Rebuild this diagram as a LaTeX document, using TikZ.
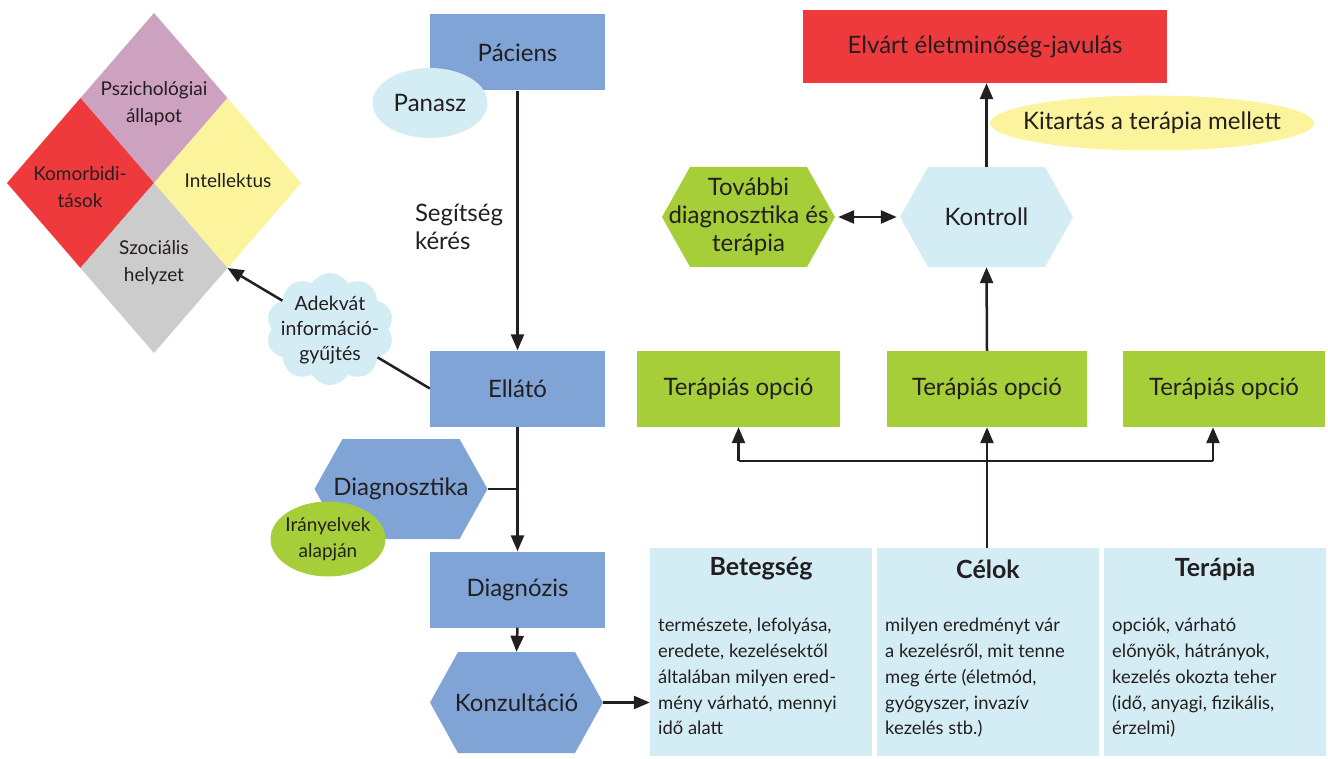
\documentclass[tikz,border=0pt]{standalone}
\usepackage{fontspec}
\setmainfont{Lato}
\usetikzlibrary{shapes.geometric,shapes.symbols,arrows.meta,calc}
\definecolor{bluebox}{HTML}{80A4D6}
\definecolor{lblue}{HTML}{D4ECF3}
\definecolor{grn}{HTML}{A6CE39}
\definecolor{redc}{HTML}{EE3A3D}
\definecolor{pinkc}{HTML}{CDA1C0}
\definecolor{yelc}{HTML}{FBF49C}
\definecolor{grayc}{HTML}{CCCCCC}
\definecolor{ink}{HTML}{231F20}
\newcommand\hexshape[7]{%
  \fill[#6] ({#2-#4/2},#3) -- ({#2-#4/2+28},{#3-#5/2}) -- ({#2+#4/2-28},{#3-#5/2}) -- ({#2+#4/2},#3) -- ({#2+#4/2-28},{#3+#5/2}) -- ({#2-#4/2+28},{#3+#5/2}) -- cycle;
  \node[txt, minimum width=#4pt, minimum height=#5pt, inner sep=0pt] (#1) at (#2,#3) {#7};}
\begin{document}
\begin{tikzpicture}[x=1pt,y=-1pt,
  txt/.style={text=ink, align=center, font=\fontsize{24}{28}\selectfont},
  small/.style={text=ink, align=center, font=\fontsize{19}{27}\selectfont},
  body/.style={text=ink, align=left, font=\fontsize{18.4}{25.8}\selectfont, anchor=north west, inner sep=0pt},
  head/.style={text=ink, font=\bfseries\fontsize{25}{28}\selectfont},
  box/.style={txt, minimum width=175pt, minimum height=76pt, inner sep=0pt},
  ell/.style={ellipse, inner sep=0pt},
  arr/.style={draw=ink, line width=2.5pt, -{Triangle[length=16pt,width=13pt]}},
  ln/.style={draw=ink, line width=2.5pt},
  infobox/.style={fill=lblue, minimum width=222pt, minimum height=208pt, inner sep=0pt}]
\useasboundingbox (0,0) rectangle (1328,759);

% diamond
\fill[pinkc] (154,13) -- (227.5,98) -- (154,183) -- (80.5,98) -- cycle;
\fill[redc] (80.5,98) -- (154,183) -- (80.5,268) -- (7,183) -- cycle;
\fill[yelc] (227.5,98) -- (301,183) -- (227.5,268) -- (154,183) -- cycle;
\fill[grayc] (154,183) -- (227.5,268) -- (154,353) -- (80.5,268) -- cycle;
\coordinate (dr) at (227.5,268);
\node[small] (psz) at (154,104) {Pszichológiai\\állapot};
\node[small] (kom) at (80,187) {Komorbidi-\\tások};
\node[small] (int) at (228,181) {Intellektus};
\node[small] (szo) at (154,263) {Szociális\\helyzet};

% left column
\node[box, fill=bluebox] (pac) at (517.5,52.5) {Páciens};
\node[ell, fill=lblue, minimum width=115pt, minimum height=70pt] (pan) at (430,103) {};
\node[txt] (pant) at (pan.center) {Panasz};
\node[box, fill=bluebox] (ell) at (517.5,388.5) {Ellátó};
\node[box, fill=bluebox] (dgz) at (517.5,589.5) {Diagnózis};
\hexshape{dgt}{401}{489}{173}{100}{bluebox}{Diagnosztika}
\node[ell, fill=grn, minimum width=115pt, minimum height=75pt] (iry) at (328,539) {};
\node[small, font=\fontsize{19}{26}\selectfont] (iryt) at (iry.center) {Irányelvek\\alapján};
\hexshape{kon}{516.5}{702.5}{173}{101}{bluebox}{Konzultáció}

\node[txt, align=left, anchor=center] (seg) at (459,227) {Segítség\\kérés};

\node[cloud, cloud puffs=10, cloud puff arc=120, aspect=1.1, fill=lblue, minimum width=128pt, minimum height=112pt, inner sep=0pt] (cld) at (330,329) {};
\node[small, font=\fontsize{19.5}{25}\selectfont] (cldt) at (330,330) {Adekvát\\információ-\\gyűjtés};

\draw[arr] (pac.south) -- (ell.north);
\draw[arr] (ell.south) -- (dgz.north);
\draw[ln] (dgt.east) -- (dgt.east -| ell.south);
\draw[arr] (dgz.south) -- (kon.north);
\draw[ln] (cld) -- (ell.west);
\draw[arr] (cld) -- (dr);

% bottom info boxes
\node[infobox] (bet) at (761,652) {};
\node[infobox] (cel) at (988,652) {};
\node[infobox] (ter) at (1215,652) {};
\node[head] (beth) at (761,569) {Betegség};
\node[head] (celh) at (988,569) {Célok};
\node[head] (terh) at (1215,569) {Terápia};
\node[body] (betb) at (658,618) {természete, lefolyása,\\eredete, kezelésektől\\általában milyen ered-\\mény várható, mennyi\\idő alatt};
\node[body] (celb) at (885,618) {milyen eredményt vár\\a kezelésről, mit tenne\\meg érte (életmód,\\gyógyszer, invazív\\kezelés stb.)};
\node[body] (terb) at (1112,618) {opciók, várható\\előnyök, hátrányok,\\kezelés okozta teher\\(idő, anyagi, fizikális,\\érzelmi)};
\draw[arr] (kon.east) -- (bet.west |- kon.east);

% therapy options
\node[txt, fill=grn, minimum width=203pt, minimum height=76pt, inner sep=0pt] (op1) at (738.5,389) {Terápiás opció};
\node[txt, fill=grn, minimum width=200pt, minimum height=76pt, inner sep=0pt] (op2) at (987,389) {Terápiás opció};
\node[txt, fill=grn, minimum width=202pt, minimum height=76pt, inner sep=0pt] (op3) at (1224,389) {Terápiás opció};
\coordinate (j1) at (738.5,461);
\coordinate (j3) at (1213,461);
\draw[arr] (cel.north -| op2.south) -- (op2.south);
\draw[ln] (j1) -- (j3);
\draw[arr] (j1) -- (op1.south);
\draw[arr] (j3) -- (j3 |- op3.south);

% top right
\hexshape{kot}{986.5}{217}{173}{100}{lblue}{Kontroll}
\hexshape{tov}{748.5}{217}{173}{100}{grn}{További\\diagnosztika és\\terápia}
\node[txt, fill=redc, minimum width=364pt, minimum height=73pt, inner sep=0pt] (elv) at (985,46.5) {Elvárt életminőség-javulás};
\node[ell, fill=yelc, minimum width=324pt, minimum height=55pt] (kit) at (1152,123) {};
\node[txt] (kitt) at (kit.center) {Kitartás a terápia mellett};
\draw[arr] (op2.north) -- (kot.south);
\draw[arr] (kot.north) -- (elv.south -| kot.north);
\draw[draw=ink, line width=2.5pt, {Triangle[length=16pt,width=13pt]}-{Triangle[length=16pt,width=13pt]}] ([xshift=3pt]tov.east) -- ([xshift=-3pt]kot.west);
\end{tikzpicture}
\end{document}
